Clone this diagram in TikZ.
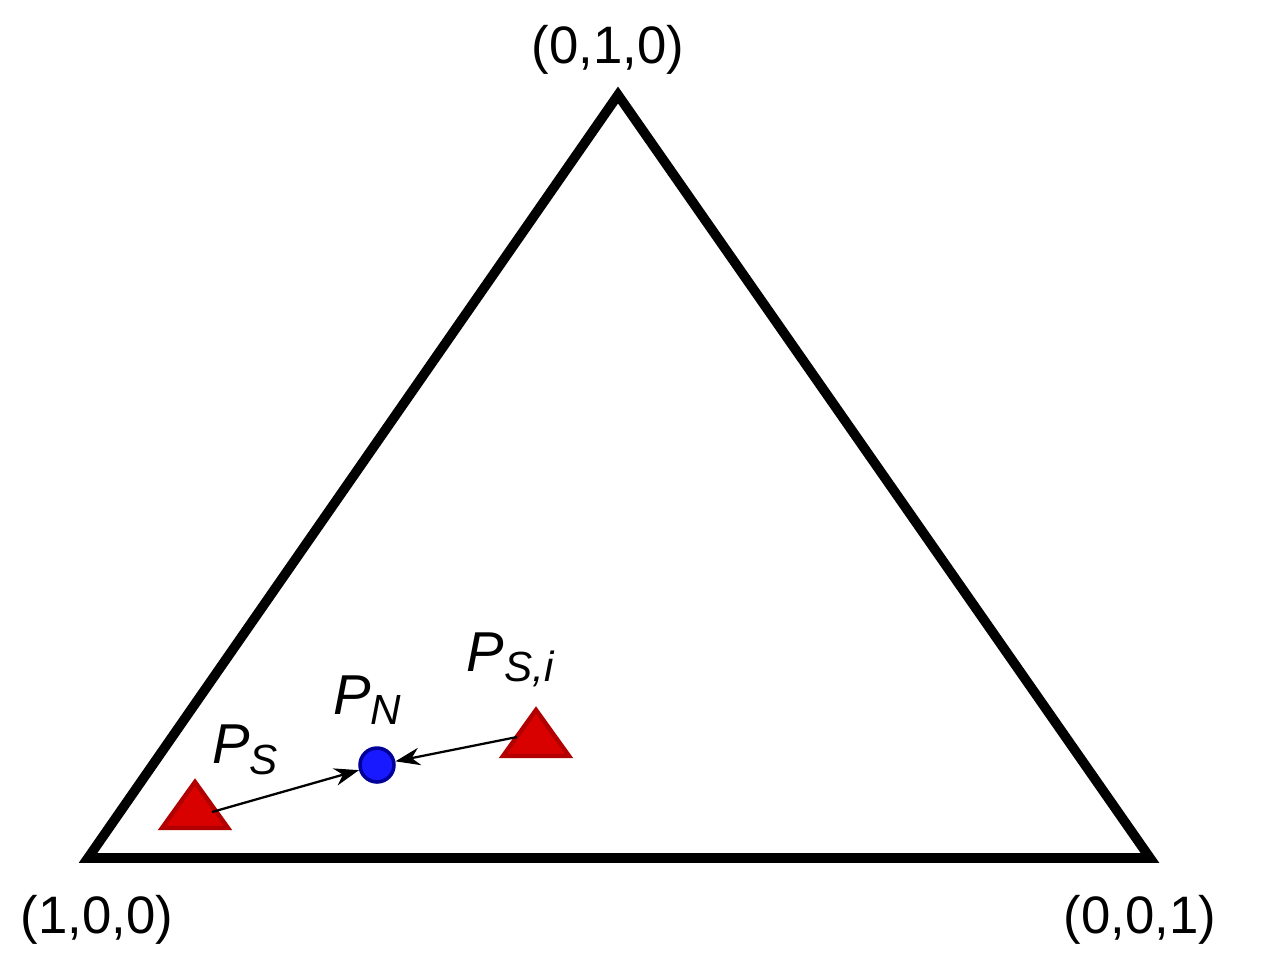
\documentclass[tikz,border=0pt]{standalone}
\usepackage{fontspec}
\setmainfont{Liberation Sans}
\usetikzlibrary{arrows.meta}
\begin{document}
\begin{tikzpicture}[x=0.02cm,y=-0.02cm,
  lbl/.style={font=\fontsize{30}{34}\selectfont},
  plbl/.style={font=\fontsize{32}{36}\selectfont\itshape},
  marker/.style={draw=red!70!black,fill=red!85!black,line width=2.5pt},
  arr/.style={line width=1.3pt,-{Stealth[length=14pt,width=10pt]}}]
\useasboundingbox (0,0) rectangle (1263,960);
\coordinate (A) at (88,858);
\coordinate (B) at (618,95);
\coordinate (C) at (1150,858);
\draw[line width=5.5pt,line join=miter] (A)--(B)--(C)--cycle;
\node[lbl] (lb) at (608,50) {(0,1,0)};
\node[lbl] (la) at (97,920) {(1,0,0)};
\node[lbl] (lc) at (1140,920) {(0,0,1)};
\draw[marker] (162,828)--(228,828)--(195,782)--cycle;
\draw[marker] (503,756)--(569,756)--(536,710)--cycle;
\coordinate (ps) at (212,812);
\coordinate (psi) at (517,737);
\node[circle,draw=blue!60!black,fill=blue!90!white,line width=2pt,minimum size=0.68cm,inner sep=0] (pn) at (377,765) {};
\draw[arr] (ps) -- (pn);
\draw[arr] (psi) -- (pn);
\node[plbl] (tps) at (245,750) {P\raisebox{-0.35ex}{\fontsize{24}{26}\selectfont S}};
\node[plbl] (tpn) at (367,700) {P\raisebox{-0.35ex}{\fontsize{24}{26}\selectfont N}};
\node[plbl] (tpsi) at (510,660) {P\raisebox{-0.35ex}{\fontsize{24}{26}\selectfont S,i}};
\end{tikzpicture}
\end{document}
